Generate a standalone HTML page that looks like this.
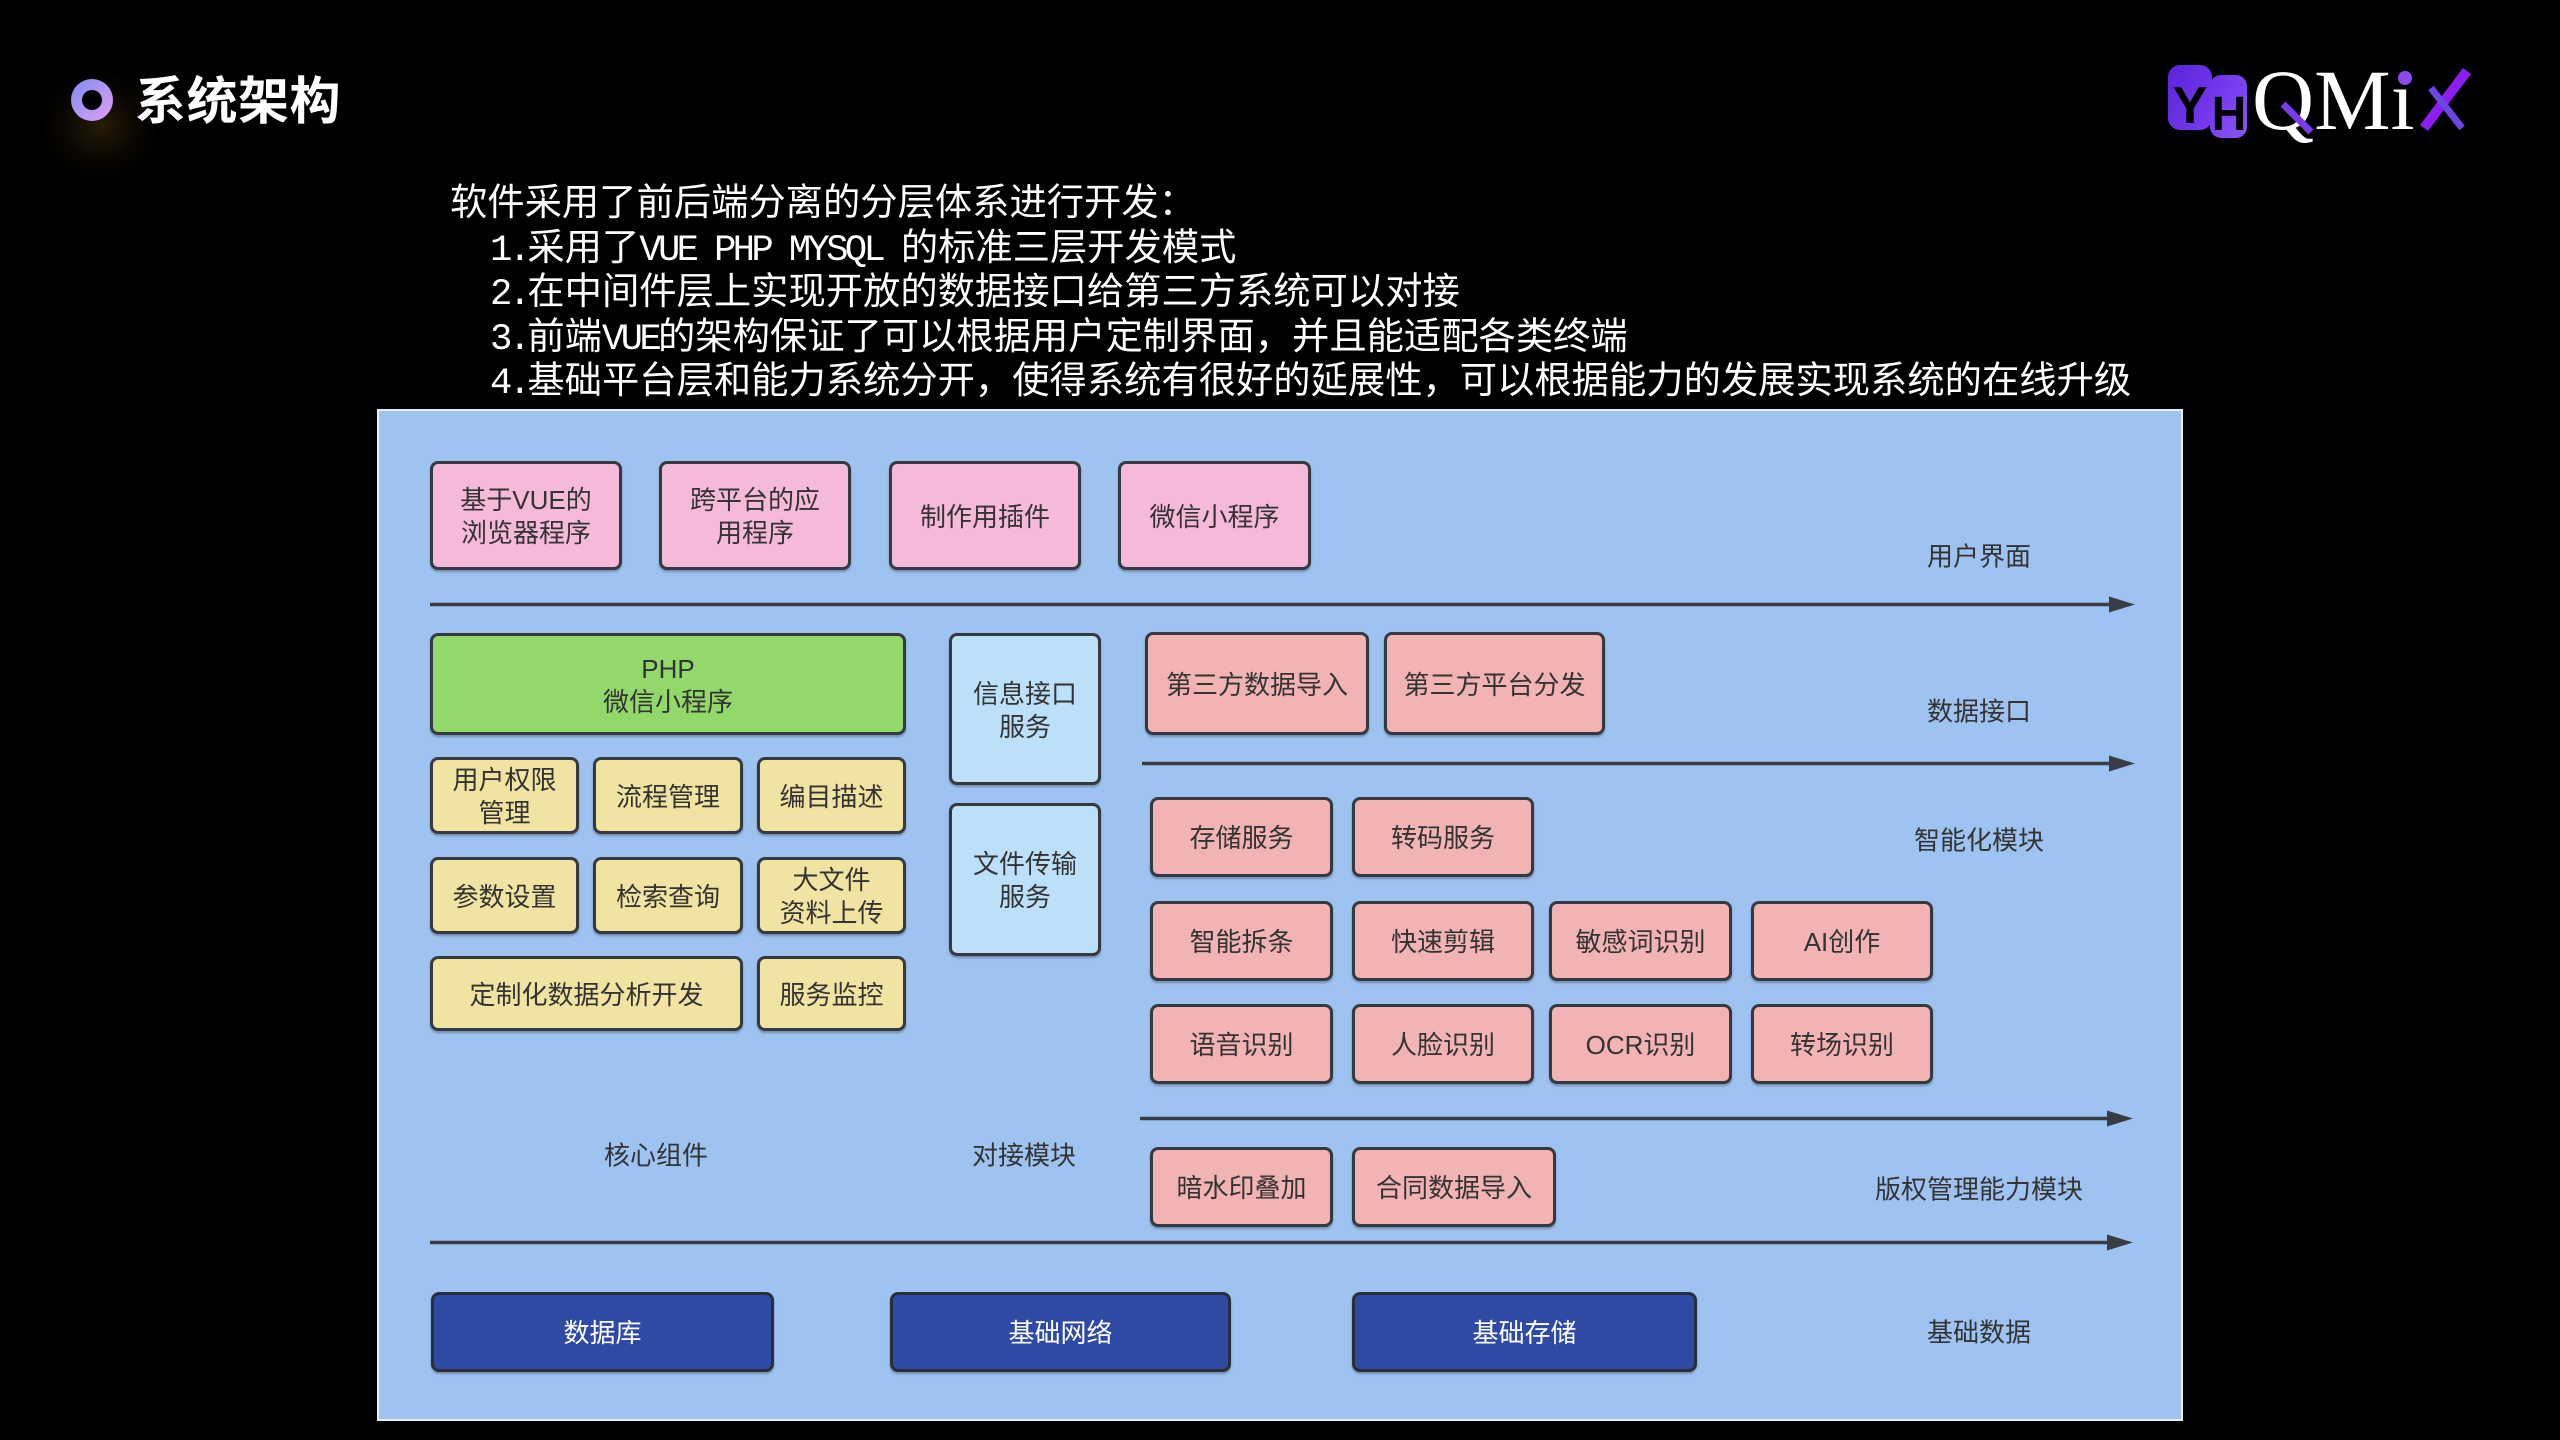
<!DOCTYPE html>
<html>
<head>
<meta charset="utf-8">
<style>
  html,body{margin:0;padding:0;background:#000;}
  body{width:2560px;height:1440px;position:relative;overflow:hidden;
    font-family:"Liberation Sans","Noto Sans CJK SC",sans-serif;}
  .glow{position:absolute;left:40px;top:70px;width:120px;height:110px;border-radius:50%;
    background:radial-gradient(ellipse at center, rgba(110,80,20,0.35) 0%, rgba(60,40,10,0.15) 45%, rgba(0,0,0,0) 70%);}
  .ring{position:absolute;left:71px;top:79px;width:42px;height:42px;border-radius:50%;
    background:linear-gradient(135deg,#7d8cf0 0%,#b797f4 55%,#dc9cf6 100%);}
  .ring::after{content:"";position:absolute;left:11px;top:11px;width:20px;height:20px;border-radius:50%;background:#000;}
  .title{position:absolute;left:135px;top:69px;font-size:51px;line-height:66px;font-weight:bold;color:#fff;
    font-family:"Liberation Sans","Noto Sans CJK SC",sans-serif;letter-spacing:0.5px;}
  .intro{position:absolute;color:#fff;font-size:37.3px;line-height:44.5px;white-space:nowrap;
    font-family:"Liberation Sans","Noto Sans CJK SC",sans-serif;}
  .intro .l{font-family:"Liberation Mono","Noto Sans CJK SC",monospace;letter-spacing:-3.7px;}
  .diag{position:absolute;left:377px;top:409px;width:1806px;height:1012px;box-sizing:border-box;
    border:2px solid #e6edf7;background:#9fc3f1;}
  .b{position:absolute;box-sizing:border-box;border:3px solid #353a40;border-radius:8px;
    display:flex;align-items:center;justify-content:center;text-align:center;
    font-size:26px;line-height:33px;color:#333;padding-top:3px;
    box-shadow:0 2px 2px rgba(0,0,0,0.28);
    font-family:"Liberation Sans","Noto Sans CJK SC",sans-serif;}
  .pk{background:#f5b9d9;}
  .gr{background:#92d86a;}
  .ye{background:#f1e3a1;}
  .lb{background:#bde0fa;}
  .sa{background:#f1b3b4;}
  .db{background:#2f4aa4;color:#fff;border-color:#2a2e38;}
  .lab{position:absolute;transform:translate(-50%,-50%);font-size:26px;line-height:33px;color:#333;white-space:nowrap;
    font-family:"Liberation Sans","Noto Sans CJK SC",sans-serif;}
  svg{position:absolute;left:0;top:0;}
</style>
</head>
<body>

<div class="glow"></div>
<div class="ring"></div>
<div class="title">系统架构</div>

<!-- Logo -->
<svg width="2560" height="200" viewBox="0 0 2560 200">
  <defs>
    <linearGradient id="lg1" x1="0" y1="0" x2="1" y2="1">
      <stop offset="0" stop-color="#5a24d8"/>
      <stop offset="1" stop-color="#7a3cf0"/>
    </linearGradient>
    <linearGradient id="lg2" x1="0" y1="0" x2="1" y2="1">
      <stop offset="0" stop-color="#6a30e8"/>
      <stop offset="1" stop-color="#8a55f5"/>
    </linearGradient>
  </defs>
  <rect x="2168" y="65" width="44" height="65" rx="12" fill="url(#lg1)"/>
  <rect x="2210" y="75" width="37" height="63" rx="11" fill="url(#lg2)"/>
  <text x="2190" y="123" text-anchor="middle" font-family="Liberation Sans, sans-serif" font-weight="bold" font-size="52" fill="#000">Y</text>
  <text x="2229" y="130" text-anchor="middle" font-family="Liberation Sans, sans-serif" font-weight="bold" font-size="48" fill="#000">H</text>
  <text x="2252" y="129" font-family="Liberation Serif, serif" font-size="86" fill="#fff">QMı</text>
  <line x1="2283" y1="104" x2="2311" y2="132" stroke="#7a3ce8" stroke-width="7"/>
  <circle cx="2405" cy="78" r="7" fill="#8a4af0"/>
  <line x1="2467" y1="71" x2="2424" y2="128" stroke="#8a1ff0" stroke-width="10"/>
  <line x1="2431" y1="88" x2="2462" y2="128" stroke="#6e45e6" stroke-width="7"/>
</svg>

<!-- Intro text -->
<div class="intro" style="left:450px;top:180px;">软件采用了前后端分离的分层体系进行开发：</div>
<div class="intro" style="left:490px;top:224.5px;"><span class="l">1.</span>采用了<span class="l">VUE PHP MYSQL </span>的标准三层开发模式</div>
<div class="intro" style="left:490px;top:269px;"><span class="l">2.</span>在中间件层上实现开放的数据接口给第三方系统可以对接</div>
<div class="intro" style="left:490px;top:313.5px;"><span class="l">3.</span>前端<span class="l">VUE</span>的架构保证了可以根据用户定制界面，并且能适配各类终端</div>
<div class="intro" style="left:490px;top:358px;"><span class="l">4.</span>基础平台层和能力系统分开，使得系统有很好的延展性，可以根据能力的发展实现系统的在线升级</div>

<!-- Diagram background -->
<div class="diag"></div>

<!-- Top row -->
<div class="b pk" style="left:430px;top:461px;width:192px;height:109px;">基于VUE的<br>浏览器程序</div>
<div class="b pk" style="left:659px;top:461px;width:192px;height:109px;">跨平台的应<br>用程序</div>
<div class="b pk" style="left:889px;top:461px;width:192px;height:109px;">制作用插件</div>
<div class="b pk" style="left:1118px;top:461px;width:193px;height:109px;">微信小程序</div>

<!-- Core components -->
<div class="b gr" style="left:430px;top:633px;width:476px;height:102px;">PHP<br>微信小程序</div>
<div class="b ye" style="left:430px;top:757px;width:149px;height:77px;">用户权限<br>管理</div>
<div class="b ye" style="left:593px;top:757px;width:150px;height:77px;">流程管理</div>
<div class="b ye" style="left:757px;top:757px;width:149px;height:77px;">编目描述</div>
<div class="b ye" style="left:430px;top:857px;width:149px;height:77px;">参数设置</div>
<div class="b ye" style="left:593px;top:857px;width:150px;height:77px;">检索查询</div>
<div class="b ye" style="left:757px;top:857px;width:149px;height:77px;">大文件<br>资料上传</div>
<div class="b ye" style="left:430px;top:956px;width:313px;height:75px;">定制化数据分析开发</div>
<div class="b ye" style="left:757px;top:956px;width:149px;height:75px;">服务监控</div>

<!-- Interface module -->
<div class="b lb" style="left:949px;top:633px;width:152px;height:152px;">信息接口<br>服务</div>
<div class="b lb" style="left:949px;top:803px;width:152px;height:153px;">文件传输<br>服务</div>

<!-- Data interface -->
<div class="b sa" style="left:1145px;top:632px;width:224px;height:103px;">第三方数据导入</div>
<div class="b sa" style="left:1384px;top:632px;width:221px;height:103px;">第三方平台分发</div>

<!-- Intelligent modules -->
<div class="b sa" style="left:1150px;top:797px;width:183px;height:80px;">存储服务</div>
<div class="b sa" style="left:1352px;top:797px;width:182px;height:80px;">转码服务</div>

<div class="b sa" style="left:1150px;top:901px;width:183px;height:80px;">智能拆条</div>
<div class="b sa" style="left:1352px;top:901px;width:182px;height:80px;">快速剪辑</div>
<div class="b sa" style="left:1549px;top:901px;width:183px;height:80px;">敏感词识别</div>
<div class="b sa" style="left:1751px;top:901px;width:182px;height:80px;">AI创作</div>

<div class="b sa" style="left:1150px;top:1004px;width:183px;height:80px;">语音识别</div>
<div class="b sa" style="left:1352px;top:1004px;width:182px;height:80px;">人脸识别</div>
<div class="b sa" style="left:1549px;top:1004px;width:183px;height:80px;">OCR识别</div>
<div class="b sa" style="left:1751px;top:1004px;width:182px;height:80px;">转场识别</div>

<!-- Copyright -->
<div class="b sa" style="left:1150px;top:1147px;width:183px;height:80px;">暗水印叠加</div>
<div class="b sa" style="left:1352px;top:1147px;width:204px;height:80px;">合同数据导入</div>

<!-- Base -->
<div class="b db" style="left:431px;top:1292px;width:343px;height:80px;">数据库</div>
<div class="b db" style="left:890px;top:1292px;width:341px;height:80px;">基础网络</div>
<div class="b db" style="left:1352px;top:1292px;width:345px;height:80px;">基础存储</div>

<!-- Arrows -->
<svg width="2560" height="1440" viewBox="0 0 2560 1440">
  <g stroke="#383d44" stroke-width="3.4" fill="none">
    <line x1="430" y1="604.5" x2="2112" y2="604.5"/>
    <line x1="1142" y1="763.5" x2="2112" y2="763.5"/>
    <line x1="1140" y1="1118.5" x2="2110" y2="1118.5"/>
    <line x1="430" y1="1242.5" x2="2110" y2="1242.5"/>
  </g>
  <g fill="#383d44">
    <polygon points="2109,596.5 2135,604.5 2109,612.5"/>
    <polygon points="2109,755.5 2135,763.5 2109,771.5"/>
    <polygon points="2107,1110.5 2133,1118.5 2107,1126.5"/>
    <polygon points="2107,1234.5 2133,1242.5 2107,1250.5"/>
  </g>
</svg>

<!-- Labels -->
<div class="lab" style="left:1979px;top:557px;">用户界面</div>
<div class="lab" style="left:1979px;top:712px;">数据接口</div>
<div class="lab" style="left:1979px;top:841px;">智能化模块</div>
<div class="lab" style="left:1979px;top:1190px;">版权管理能力模块</div>
<div class="lab" style="left:1979px;top:1333px;">基础数据</div>
<div class="lab" style="left:656px;top:1156px;">核心组件</div>
<div class="lab" style="left:1024px;top:1156px;">对接模块</div>

</body>
</html>
